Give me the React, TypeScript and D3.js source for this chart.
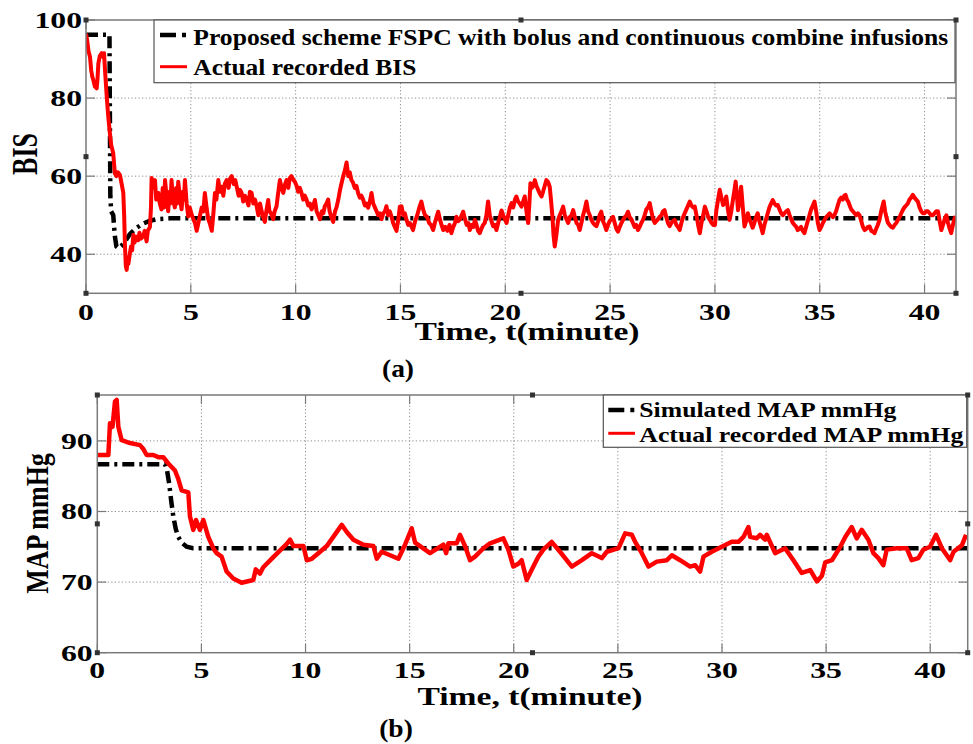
import React from 'react';
import * as d3 from 'd3';

// Tick values
const timeTicks = [0, 5, 10, 15, 20, 25, 30, 35, 40];
const bisTicks = [40, 60, 80, 100];
const mapTicks = [60, 70, 80, 90];

// (a) BIS: simulated response of the proposed scheme, [minute, BIS]
const bisSimulated: [number, number][] = [
  [0, 96.2], [1.12, 96.2], [1.14, 75], [1.16, 55], [1.2, 51], [1.3, 50], [1.34, 47],
  [1.38, 44.5], [1.45, 42], [1.55, 41.5], [1.7, 42.2], [1.9, 43.6], [2.1, 45.2],
  [2.4, 46.7], [2.7, 47.8], [3.0, 48.5], [3.4, 49], [4.0, 49.2], [41.5, 49.2],
];

// (a) BIS: actual recorded values, [minute, BIS]
const bisActual: [number, number][] = [
  [0, 96.5], [0.05, 95], [0.12, 92], [0.19, 90.6], [0.25, 87], [0.3, 85.5], [0.35, 84.6], [0.42, 83],
  [0.51, 82.5], [0.55, 85], [0.59, 88.9], [0.66, 90.8], [0.75, 91.5], [0.82, 90.5], [0.86, 91.5],
  [0.92, 86], [0.99, 80.4], [1.05, 76], [1.14, 71], [1.2, 68], [1.3, 65.9], [1.34, 63], [1.38, 60.7],
  [1.45, 60], [1.52, 61], [1.62, 60.3], [1.7, 58], [1.78, 55.7], [1.82, 50], [1.86, 42], [1.9, 37],
  [1.94, 36], [1.98, 38.5], [2.02, 37.5], [2.1, 40.5], [2.15, 42], [2.2, 41], [2.26, 45], [2.32, 43],
  [2.4, 44.5], [2.49, 43.6], [2.55, 45.5], [2.62, 44], [2.73, 44.6], [2.8, 46], [2.89, 43.3], [2.95, 46],
  [3.05, 47], [3.1, 52], [3.13, 59.5], [3.2, 57], [3.29, 59], [3.35, 54], [3.45, 55.7], [3.52, 53],
  [3.6, 51.5], [3.66, 57], [3.72, 52], [3.77, 59], [3.84, 55], [3.92, 51], [3.98, 56], [4.03, 53],
  [4.08, 59], [4.15, 54], [4.24, 52], [4.3, 57], [4.35, 53], [4.4, 58.6], [4.47, 55], [4.56, 51.5],
  [4.62, 56], [4.67, 54], [4.72, 59], [4.8, 53], [4.88, 49.7], [4.95, 52], [5.05, 50], [5.12, 49],
  [5.2, 48], [5.28, 46], [5.36, 48], [5.44, 50], [5.52, 52], [5.6, 51], [5.67, 55.7], [5.75, 52],
  [5.83, 49], [5.9, 48], [6.0, 46], [6.07, 50], [6.15, 55.7], [6.22, 54], [6.31, 59], [6.38, 56],
  [6.47, 57.3], [6.55, 55], [6.62, 58], [6.71, 59], [6.8, 57], [6.88, 59.5], [6.95, 60], [7.05, 58],
  [7.12, 59], [7.19, 57.3], [7.28, 55], [7.35, 56.5], [7.42, 55.7], [7.5, 53.5], [7.58, 55], [7.66, 54],
  [7.75, 52.5], [7.82, 56], [7.9, 55.7], [7.98, 53], [8.06, 54], [8.14, 52.3], [8.22, 50], [8.3, 53],
  [8.38, 51], [8.45, 49.5], [8.53, 48.3], [8.6, 51], [8.69, 53.9], [8.75, 51], [8.82, 50.5], [8.93, 49],
  [9.0, 51], [9.09, 52.3], [9.15, 55], [9.25, 59], [9.33, 57], [9.41, 55.7], [9.5, 58], [9.57, 59],
  [9.65, 57], [9.72, 59.5], [9.8, 60], [9.9, 59], [9.97, 58.5], [10.04, 57.6], [10.12, 56], [10.2, 57],
  [10.28, 55.7], [10.36, 54], [10.44, 55], [10.52, 54], [10.6, 52.5], [10.68, 53], [10.76, 51.5],
  [10.84, 52.5], [10.92, 53.9], [11.0, 51], [11.08, 50], [11.16, 49], [11.25, 51], [11.32, 50.5],
  [11.39, 52.3], [11.47, 53], [11.55, 54], [11.62, 51], [11.7, 49.5], [11.79, 48.3], [11.88, 51],
  [11.95, 52], [12.03, 53.9], [12.1, 56], [12.18, 58], [12.27, 60], [12.35, 61.5], [12.43, 63.5],
  [12.51, 60], [12.58, 61], [12.66, 59], [12.74, 58.3], [12.82, 57], [12.9, 57.5], [12.98, 55.7],
  [13.06, 54.5], [13.14, 55], [13.22, 54], [13.3, 52.5], [13.38, 53], [13.46, 51.9], [13.54, 53.5],
  [13.62, 55.7], [13.7, 53], [13.78, 52], [13.86, 51], [13.94, 50], [14.02, 50.5], [14.1, 49],
  [14.18, 50.5], [14.26, 51], [14.33, 52.3], [14.41, 50], [14.49, 51], [14.57, 49.7], [14.65, 48],
  [14.73, 47], [14.81, 46], [14.9, 49], [14.97, 52.2], [15.05, 52.3], [15.13, 50], [15.21, 50.5],
  [15.29, 48.8], [15.37, 47.5], [15.45, 48], [15.6, 46.2], [15.7, 48.5], [15.8, 50], [15.9, 52],
  [16.0, 53.5], [16.08, 51.5], [16.17, 50], [16.27, 49.6], [16.37, 48], [16.46, 47.5], [16.56, 46.2],
  [16.64, 48], [16.72, 49.5], [16.8, 50.9], [16.88, 49], [16.96, 47.5], [17.04, 46.2], [17.14, 47],
  [17.24, 46], [17.34, 47.5], [17.43, 45.4], [17.52, 47], [17.6, 48], [17.67, 49.6], [17.76, 48.5],
  [17.85, 49], [17.92, 50], [17.99, 50.9], [18.08, 49], [18.16, 47.5], [18.24, 48], [18.31, 46.2],
  [18.4, 47.5], [18.48, 47], [18.55, 48.8], [18.63, 47.5], [18.7, 46], [18.78, 45.4], [18.86, 46.5],
  [18.94, 47.5], [19.02, 48], [19.1, 50], [19.18, 53.5], [19.26, 50], [19.34, 48.5], [19.42, 47.2],
  [19.5, 47.5], [19.58, 46.2], [19.66, 48], [19.74, 49.5], [19.82, 51.2], [19.9, 50], [19.98, 49],
  [20.06, 48], [20.14, 50], [20.22, 52], [20.3, 53.1], [20.38, 52], [20.46, 54], [20.53, 54.8],
  [20.61, 53.5], [20.69, 53], [20.77, 52.2], [20.85, 53.5], [20.93, 54.8], [21.01, 51], [21.09, 48],
  [21.15, 53], [21.2, 58.2], [21.27, 57], [21.34, 57.5], [21.41, 59], [21.49, 57.5], [21.57, 56.5],
  [21.65, 55.5], [21.73, 54.8], [21.8, 56], [21.88, 57.5], [21.96, 59], [22.04, 58.5], [22.12, 57.3],
  [22.18, 54], [22.25, 49.6], [22.3, 45], [22.36, 42], [22.44, 45], [22.52, 48.8], [22.6, 50],
  [22.68, 51], [22.76, 52.2], [22.84, 50], [22.92, 49], [23.0, 48], [23.08, 49.5], [23.16, 50],
  [23.24, 51.3], [23.32, 49.5], [23.4, 48], [23.48, 47.5], [23.55, 46.2], [23.63, 48], [23.71, 50],
  [23.79, 51.5], [23.87, 53.5], [23.95, 51], [24.03, 50], [24.11, 48.8], [24.19, 48], [24.27, 47.5],
  [24.35, 47.2], [24.43, 48.5], [24.5, 50], [24.58, 50.9], [24.66, 48.5], [24.74, 47.5], [24.82, 46.2],
  [24.9, 47.5], [24.98, 48.5], [25.06, 49], [25.14, 49.6], [25.22, 48], [25.3, 46.5], [25.38, 45.8],
  [25.46, 47], [25.54, 48], [25.62, 48.8], [25.7, 49.5], [25.78, 50], [25.85, 50.9], [25.93, 49.5],
  [26.01, 49], [26.09, 48], [26.17, 47], [26.25, 47.5], [26.33, 46.2], [26.41, 47], [26.49, 48],
  [26.57, 48.8], [26.65, 50], [26.73, 51.5], [26.81, 52], [26.89, 53.1], [26.97, 51], [27.05, 49],
  [27.13, 48], [27.21, 48.5], [27.29, 49], [27.37, 49.6], [27.45, 50], [27.52, 51], [27.6, 51.3],
  [27.68, 49.5], [27.76, 48], [27.84, 47.2], [27.92, 48], [28.0, 48.5], [28.08, 48.8], [28.16, 47.5],
  [28.24, 47], [28.32, 46.2], [28.4, 48], [28.48, 49.5], [28.56, 50.5], [28.64, 51.5], [28.72, 52.5],
  [28.8, 53.5], [28.88, 52.5], [28.96, 52], [29.04, 52.2], [29.12, 50], [29.2, 47.5], [29.28, 45.4],
  [29.36, 48], [29.44, 50], [29.52, 52.2], [29.6, 51], [29.68, 49.5], [29.76, 48.8], [29.84, 48],
  [29.92, 47.5], [30.0, 47.5], [30.07, 51.3], [30.15, 54], [30.23, 56.5], [30.31, 54.5], [30.39, 52.6],
  [30.47, 53.1], [30.54, 54.8], [30.62, 51.5], [30.7, 48.8], [30.78, 51], [30.86, 54], [30.92, 56],
  [30.99, 58.6], [31.05, 55], [31.1, 51.3], [31.18, 54], [31.25, 57.3], [31.33, 52], [31.41, 47.1],
  [31.49, 48.5], [31.57, 50.5], [31.65, 49], [31.72, 48], [31.8, 46.8], [31.88, 48], [31.96, 49.5],
  [32.04, 50.5], [32.12, 48.5], [32.2, 47], [32.28, 45.4], [32.36, 47.5], [32.44, 49], [32.52, 50.5],
  [32.6, 52], [32.68, 53], [32.76, 53.9], [32.84, 53], [32.92, 52.5], [33.0, 52.6], [33.08, 51.5],
  [33.16, 50.5], [33.24, 50], [33.32, 50.5], [33.4, 51], [33.48, 51.3], [33.56, 50], [33.64, 49],
  [33.71, 48.1], [33.8, 47.5], [33.88, 47], [33.95, 46.2], [34.03, 46.5], [34.11, 47], [34.19, 46],
  [34.27, 45.4], [34.35, 47], [34.43, 48.5], [34.51, 50], [34.59, 51.5], [34.67, 52.5], [34.75, 53.5],
  [34.83, 51], [34.91, 48], [34.99, 46.2], [35.07, 47], [35.15, 48], [35.23, 48.8], [35.31, 49.5],
  [35.39, 50], [35.47, 50.5], [35.55, 50], [35.63, 49.5], [35.7, 50], [35.78, 51], [35.86, 52.5],
  [35.94, 53.9], [36.02, 54.5], [36.1, 54], [36.17, 55], [36.23, 55.2], [36.3, 54], [36.36, 53.5],
  [36.42, 52.6], [36.5, 51.5], [36.58, 51], [36.66, 50.5], [36.74, 50], [36.82, 50.5], [36.9, 50],
  [36.98, 48.5], [37.06, 47], [37.14, 46.2], [37.22, 46.5], [37.3, 47], [37.38, 47.1], [37.46, 46],
  [37.54, 45.8], [37.61, 45.4], [37.69, 46.5], [37.77, 47.5], [37.85, 48.8], [37.93, 51], [38.0, 52.5],
  [38.05, 53.5], [38.12, 51], [38.18, 49.5], [38.25, 48.1], [38.33, 47.5], [38.41, 47], [38.49, 46.8],
  [38.57, 47.5], [38.65, 48], [38.73, 48.8], [38.81, 49.5], [38.89, 50.5], [38.96, 51.3], [39.04, 52],
  [39.12, 52.5], [39.2, 53], [39.28, 54], [39.36, 54.5], [39.44, 55.2], [39.52, 54.5], [39.6, 54],
  [39.68, 53.5], [39.76, 52], [39.84, 51], [39.92, 50.5], [40.0, 50.5], [40.08, 51], [40.16, 51],
  [40.24, 50.5], [40.32, 50], [40.4, 50], [40.48, 50.5], [40.56, 51], [40.64, 51], [40.72, 48.5],
  [40.8, 46.2], [40.88, 47.5], [40.96, 49], [41.04, 50], [41.12, 48], [41.2, 46.5], [41.27, 45.4],
  [41.35, 47.5], [41.42, 49], [41.48, 49.8],
];

// (b) MAP: simulated response, [minute, mmHg]
const mapSimulated: [number, number][] = [
  [0, 86.7], [3.25, 86.7], [3.35, 85.8], [3.45, 84], [3.55, 81.5], [3.65, 79.3], [3.77, 77.5],
  [3.89, 76.4], [4.05, 75.6], [4.29, 75.0], [4.6, 74.8], [41.8, 74.8],
];

// (b) MAP: actual recorded values, [minute, mmHg]
const mapActual: [number, number][] = [
  [0, 88], [0.53, 88], [0.61, 92.5], [0.73, 92], [0.85, 95.6], [0.93, 95.8], [1.01, 92], [1.17, 90.1],
  [1.57, 89.7], [2.05, 89.4], [2.2, 88.9], [2.37, 88], [2.69, 88], [2.93, 87.7], [3.17, 87.7],
  [3.41, 86.8], [3.73, 85.8], [3.89, 84.6], [4.05, 83], [4.37, 82.7], [4.45, 79.3], [4.61, 77.4],
  [4.74, 78.8], [4.93, 77.4], [5.09, 78.8], [5.33, 76.4], [5.57, 74.8], [5.73, 74.1], [5.97, 73.6],
  [6.21, 71.5], [6.53, 70.5], [6.93, 69.9], [7.49, 70.3], [7.61, 71.8], [7.81, 71.2], [7.97, 72.1],
  [8.37, 73.3], [8.78, 74.5], [9.1, 75.4], [9.26, 76], [9.42, 75.1], [9.9, 75.1], [10.06, 73.1],
  [10.3, 73.3], [10.7, 74.3], [11.02, 75.1], [11.74, 78.1], [11.98, 77.1], [12.3, 76], [12.78, 75.3],
  [13.26, 75.1], [13.42, 73.3], [13.66, 74.3], [14.06, 73.8], [14.46, 73.3], [14.78, 75.3],
  [15.1, 77.6], [15.26, 75.6], [15.98, 74.1], [16.62, 75.3], [16.75, 74.1], [16.86, 75.5],
  [17.26, 75.5], [17.42, 76.7], [17.66, 75.1], [17.9, 73.1], [18.14, 73.6], [18.54, 74.8],
  [18.86, 75.5], [19.5, 76.2], [19.74, 74.6], [19.98, 72.2], [20.22, 72.6], [20.38, 73.1],
  [20.62, 70.3], [20.94, 72.2], [21.18, 73.6], [21.42, 74.6], [21.82, 75.7], [22.22, 74.3],
  [22.79, 72.2], [23.27, 73.1], [23.75, 74.1], [24.23, 73.4], [24.47, 74.3], [25.03, 74.8],
  [25.35, 76.9], [25.67, 76.7], [25.83, 75.7], [26.15, 74.1], [26.47, 72.2], [26.87, 72.9],
  [27.35, 73.1], [27.59, 73.8], [27.99, 73.1], [28.47, 72.2], [28.71, 72.4], [28.95, 71.5],
  [29.11, 73.6], [29.51, 74.3], [29.99, 75.0], [30.47, 75.7], [30.79, 75.7], [31.03, 76.4],
  [31.27, 77.8], [31.35, 76.4], [31.67, 76.2], [31.83, 76.7], [32.07, 76], [32.15, 76.7],
  [32.55, 74.1], [33.03, 74.8], [33.43, 73.1], [33.83, 71.3], [34.24, 71.7], [34.56, 70.1],
  [34.8, 70.9], [34.96, 72.8], [35.28, 73.1], [35.68, 75.0], [35.92, 76.4], [36.23, 77.8],
  [36.47, 76.2], [36.71, 77.4], [37.03, 76], [37.27, 74.1], [37.51, 73.4], [37.75, 72.4],
  [37.91, 74.6], [38.39, 74.8], [38.87, 74.8], [39.11, 73.1], [39.43, 73.4], [39.67, 74.6],
  [39.99, 75.0], [40.28, 76.7], [40.56, 74.8], [40.96, 73.1], [41.12, 74.3], [41.52, 75.2],
  [41.72, 76.7],
];

const legendBIS = [
  'Proposed scheme FSPC with bolus and continuous combine infusions',
  'Actual recorded BIS',
];
const legendMAP = ['Simulated MAP mmHg', 'Actual recorded MAP mmHg'];
const xTitle = 'Time, t(minute)';

const FONT = "'Liberation Serif', 'Times New Roman', Times, serif";
const AXIS = '#7a7a7a';
const GRID = '#8c8c8c';

type Txt = {
  x: number; y: number; size: number; sx?: number; anchor?: 'start' | 'middle' | 'end';
  rotate?: number; len?: number; children: React.ReactNode;
};

function Label({ x, y, size, sx = 1, anchor = 'start', rotate, len, children }: Txt) {
  const tr = `translate(${x},${y}) scale(${sx},1)${rotate ? ` rotate(${rotate})` : ''}`;
  return (
    <text
      transform={tr}
      textAnchor={anchor}
      fontSize={size}
      fontWeight="bold"
      fontFamily={FONT}
      fill="#000"
      textLength={len}
      lengthAdjust={len ? 'spacingAndGlyphs' : undefined}
    >
      {children}
    </text>
  );
}

type PanelProps = {
  id: string;
  left: number; right: number; top: number; bottom: number;
  xMax: number; yDomain: [number, number]; yTicks: number[];
  simulated: [number, number][]; actual: [number, number][];
  redWidth: number;
  yTickRight: number; xTickBase: number;
  xTitleX: number; xTitleBase: number;
  yTitle: string; yTitleX: number; yTitleY: number; yTitleSx: number;
  caption: string; captionX: number; captionBase: number;
  legend: string[]; legendBox: [number, number, number, number];
  legendLineY: [number, number]; legendSampleX: [number, number];
  legendTextX: number; legendBase: [number, number]; legendLen: [number, number]; legendSize: number;
};

function Panel(p: PanelProps) {
  const x = d3.scaleLinear().domain([0, p.xMax]).range([p.left, p.right]);
  const y = d3.scaleLinear().domain(p.yDomain).range([p.bottom, p.top]);
  const line = d3.line<[number, number]>().x((d) => x(d[0])).y((d) => y(d[1]));
  const tickLen = 9;
  const midX = (p.left + p.right) / 2;
  const midY = (p.top + p.bottom) / 2;
  const handles: [number, number][] = [
    [p.left, p.top], [midX, p.top], [p.right, p.top],
    [p.left, midY], [p.right, midY],
    [p.left, p.bottom], [midX, p.bottom], [p.right, p.bottom],
  ];
  const [lx0, ly0, lx1, ly1] = p.legendBox;
  const [sx0, sx1] = p.legendSampleX;

  return (
    <g>
      <defs>
        <clipPath id={`clip-${p.id}`}>
          <rect x={p.left} y={p.top} width={p.right - p.left} height={p.bottom - p.top} />
        </clipPath>
      </defs>

      {/* grid */}
      {timeTicks.filter((t) => t > 0).map((t) => (
        <line key={`gx${t}`} x1={x(t)} x2={x(t)} y1={p.top} y2={p.bottom}
          stroke={GRID} strokeWidth={1} strokeDasharray="1.2,2.3" />
      ))}
      {p.yTicks.filter((v) => v > p.yDomain[0] && v < p.yDomain[1]).map((v) => (
        <line key={`gy${v}`} x1={p.left} x2={p.right} y1={y(v)} y2={y(v)}
          stroke={GRID} strokeWidth={1} strokeDasharray="1.2,2.3" />
      ))}

      {/* ticks on all four sides */}
      {timeTicks.map((t) => (
        <g key={`tx${t}`} stroke={AXIS} strokeWidth={1.2}>
          <line x1={x(t)} x2={x(t)} y1={p.bottom} y2={p.bottom - tickLen} />
          <line x1={x(t)} x2={x(t)} y1={p.top} y2={p.top + tickLen} />
        </g>
      ))}
      {p.yTicks.map((v) => (
        <g key={`ty${v}`} stroke={AXIS} strokeWidth={1.2}>
          <line x1={p.left} x2={p.left + tickLen} y1={y(v)} y2={y(v)} />
          <line x1={p.right} x2={p.right - tickLen} y1={y(v)} y2={y(v)} />
        </g>
      ))}

      {/* series */}
      <g clipPath={`url(#clip-${p.id})`}>
        <path d={line(p.simulated) ?? ''} fill="none" stroke="#000" strokeWidth={4.5}
          strokeDasharray="12,5,3,5" />
        <path d={line(p.actual) ?? ''} fill="none" stroke="#ff0000" strokeWidth={p.redWidth}
          strokeLinejoin="round" />
      </g>

      {/* axes box */}
      <rect x={p.left} y={p.top} width={p.right - p.left} height={p.bottom - p.top}
        fill="none" stroke={AXIS} strokeWidth={1.5} />

      {/* legend */}
      <rect x={lx0} y={ly0} width={lx1 - lx0} height={ly1 - ly0} fill="#fff" stroke="#555" strokeWidth={1.2} />
      <line x1={sx0} x2={sx1} y1={p.legendLineY[0]} y2={p.legendLineY[0]} stroke="#000" strokeWidth={4.5}
        strokeDasharray="16,6,4,20" />
      <line x1={sx0} x2={sx1} y1={p.legendLineY[1]} y2={p.legendLineY[1]} stroke="#ff0000" strokeWidth={3} />
      {p.legend.map((s, i) => (
        <Label key={s} x={p.legendTextX} y={p.legendBase[i]} size={p.legendSize} len={p.legendLen[i]}>
          {s}
        </Label>
      ))}

      {/* selection handles */}
      {handles.map(([hx, hy], i) => (
        <rect key={`h${i}`} x={hx - 2.5} y={hy - 2.5} width={5} height={5} fill="#333" />
      ))}

      {/* tick labels */}
      {timeTicks.map((t) => (
        <Label key={`lx${t}`} x={x(t)} y={p.xTickBase} size={23} sx={1.38} anchor="middle">{t}</Label>
      ))}
      {p.yTicks.map((v) => (
        <Label key={`ly${v}`} x={p.yTickRight} y={y(v) + 7.8} size={23} sx={1.38} anchor="end">{v}</Label>
      ))}

      {/* axis titles */}
      <Label x={p.xTitleX} y={p.xTitleBase} size={25} anchor="middle" len={225}>{xTitle}</Label>
      <Label x={p.yTitleX} y={p.yTitleY} size={26} sx={p.yTitleSx} anchor="middle" rotate={-90}>{p.yTitle}</Label>
      <Label x={p.captionX} y={p.captionBase} size={25} sx={1.1} anchor="middle">{p.caption}</Label>
    </g>
  );
}

export default function App() {
  return (
    <svg width={973} height={744} viewBox="0 0 973 744"
      style={{ position: 'absolute', left: 0, top: 0, background: '#fff', display: 'block' }}>
      <rect x={0} y={0} width={973} height={744} fill="#fff" />
      <Panel
        id="bis"
        left={86} right={956} top={20} bottom={293.3}
        xMax={41.5} yDomain={[30, 100]} yTicks={bisTicks}
        simulated={bisSimulated} actual={bisActual} redWidth={4}
        yTickRight={82} xTickBase={320}
        xTitleX={527} xTitleBase={340}
        yTitle="BIS" yTitleX={37} yTitleY={154} yTitleSx={1.38}
        caption="(a)" captionX={398} captionBase={377}
        legend={legendBIS} legendBox={[154, 20, 955, 82.7]}
        legendLineY={[35, 66.7]} legendSampleX={[160, 187]}
        legendTextX={193.3} legendBase={[45, 75]} legendLen={[755, 223]} legendSize={23}
      />
      <Panel
        id="map"
        left={97.3} right={967.7} top={395} bottom={652.7}
        xMax={41.8} yDomain={[60, 96.5]} yTicks={mapTicks}
        simulated={mapSimulated} actual={mapActual} redWidth={4.5}
        yTickRight={92.7} xTickBase={678}
        xTitleX={530} xTitleBase={705}
        yTitle="MAP mmHg" yTitleX={48} yTitleY={523.5} yTitleSx={1.2}
        caption="(b)" captionX={396} captionBase={737}
        legend={legendMAP} legendBox={[603.3, 395, 966.7, 447.3]}
        legendLineY={[410, 433.3]} legendSampleX={[608.3, 635]}
        legendTextX={639.3} legendBase={[416.7, 441.7]} legendLen={[257, 324]} legendSize={20}
      />
    </svg>
  );
}
